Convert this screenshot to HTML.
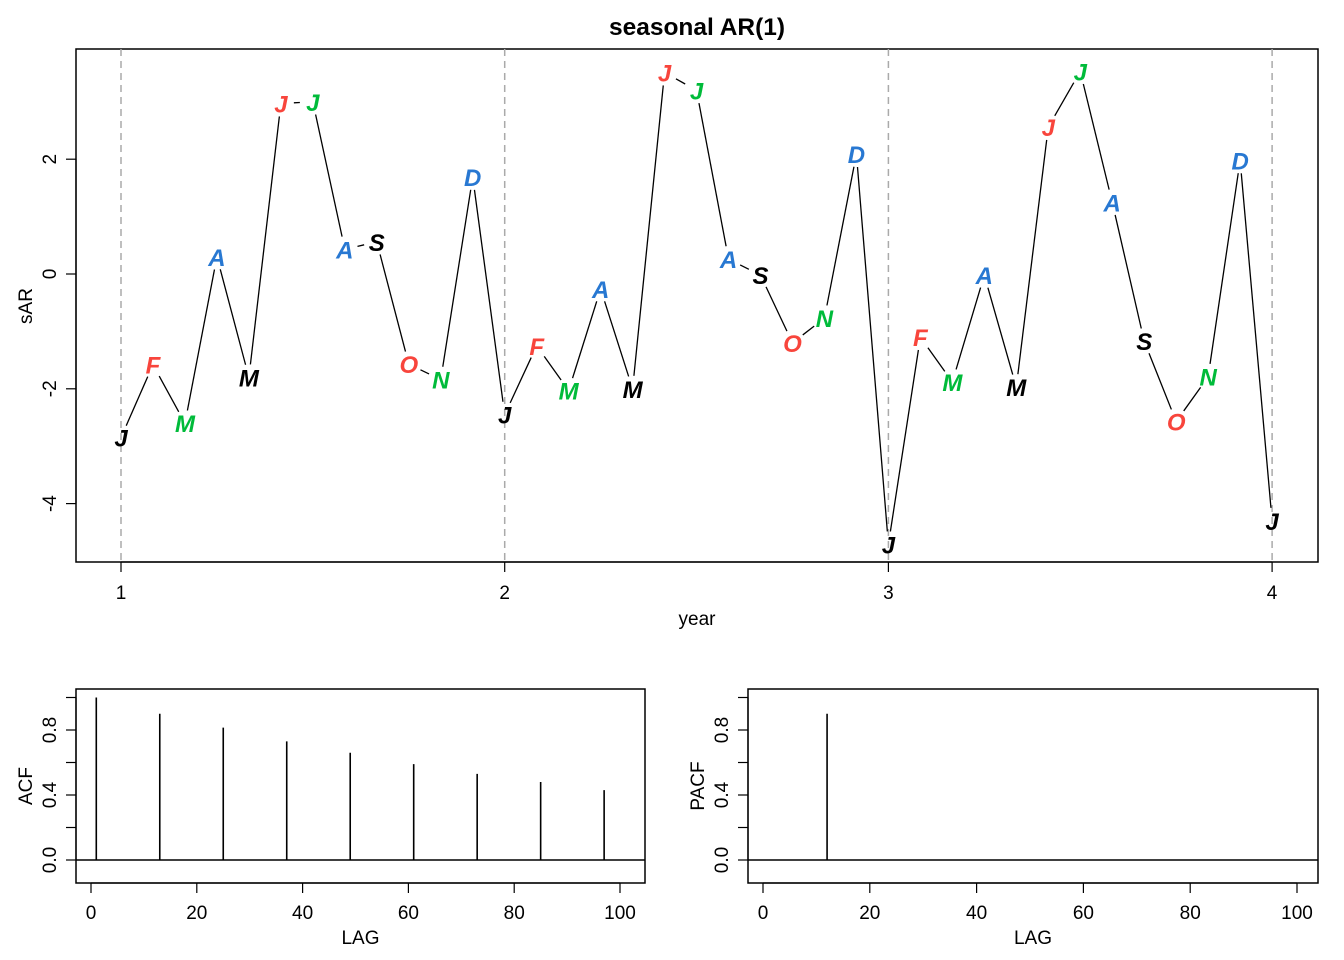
<!DOCTYPE html>
<html><head><meta charset="utf-8"><style>
html,body{margin:0;padding:0;background:#fff;}
svg{display:block;font-family:"Liberation Sans",Arial,sans-serif;}
</style></head><body>
<svg id="chart" width="1344" height="960" xmlns="http://www.w3.org/2000/svg"></svg>
<script>
const sarValues=[-2.85,-1.58,-2.6,0.3,-1.8,2.97,3.0,0.43,0.56,-1.57,-1.84,1.69,
 -2.45,-1.25,-2.03,-0.26,-2.0,3.51,3.2,0.26,-0.02,-1.2,-0.77,2.09,
 -4.71,-1.1,-1.88,-0.02,-1.97,2.56,3.53,1.25,-1.17,-2.57,-1.79,1.98,-4.3];
const monthLabels=["J","F","M","A","M","J","J","A","S","O","N","D"];
const yearTicks=[1,2,3,4];
const sarTicks=[-4,-2,0,2];
const acfLags=[1,13,25,37,49,61,73,85,97];
const acfValues=[1.0,0.9,0.815,0.73,0.66,0.59,0.53,0.48,0.43];
const pacfLags=[12];
const pacfValues=[0.9];
const lagTicks=[0,20,40,60,80,100];
const corrTicks=[0.0,0.4,0.8];
const corrMinorTicks=[0.0,0.2,0.4,0.6,0.8,1.0];
const colors=["#000000","#F8453C","#00BB3A","#2878D2"];

const svg=document.getElementById('chart');
const NS="http://www.w3.org/2000/svg";
function el(tag,attrs,parent){const e=document.createElementNS(NS,tag);for(const k in attrs)e.setAttribute(k,attrs[k]);(parent||svg).appendChild(e);return e;}
function txt(s,attrs,parent){const e=el('text',attrs,parent);e.textContent=s;return e;}

const topG=el('g',{});


const xY=t=>121+(t-1)*383.7;
const yY=v=>274-v*57.4;
let e=el('rect',{x:76,y:49,width:1242,height:513,fill:'none',stroke:'#000','stroke-width':1.5},topG);


e=txt('seasonal AR(1)',{x:697,y:35,'text-anchor':'middle','font-size':24.5,'font-weight':'bold'},topG);


yearTicks.forEach(t=>{
  let l=el('line',{x1:xY(t),x2:xY(t),y1:49,y2:562,stroke:'#aaa','stroke-width':1.5,'stroke-dasharray':'7,5'},topG);
  
  
  el('line',{x1:xY(t),x2:xY(t),y1:562,y2:572,stroke:'#000','stroke-width':1.2},topG);
  let tx=txt(String(t),{x:xY(t),y:599,'text-anchor':'middle','font-size':19},topG);
  
  
});
el('line',{x1:xY(1),x2:xY(4),y1:562,y2:562,stroke:'#000','stroke-width':1.2},topG);
sarTicks.forEach(v=>{
  el('line',{x1:66,x2:76,y1:yY(v),y2:yY(v),stroke:'#000','stroke-width':1.2},topG);
  let tx=txt(String(v),{x:0,y:0,'text-anchor':'middle','font-size':19,transform:`translate(56,${yY(v)}) rotate(-90)`},topG);
  
  
});
el('line',{x1:76,x2:76,y1:yY(-4),y2:yY(2),stroke:'#000','stroke-width':1.2},topG);
e=txt('year',{x:697,y:625,'text-anchor':'middle','font-size':19},topG);


e=txt('sAR',{x:0,y:0,'text-anchor':'middle','font-size':19,transform:'translate(32,306) rotate(-90)'},topG);


const pts=sarValues.map((v,i)=>[xY(1+i/12),yY(v)]);
for(let i=0;i<pts.length-1;i++){
  const [x1,y1]=pts[i],[x2,y2]=pts[i+1];
  const dx=x2-x1,dy=y2-y1,d=Math.hypot(dx,dy),r=13;
  if(d<=2*r)continue;
  let l=el('line',{x1:x1+dx*r/d,y1:y1+dy*r/d,x2:x2-dx*r/d,y2:y2-dy*r/d,stroke:'#000','stroke-width':1.3},topG);
  
  
}
pts.forEach((p,i)=>{
  let t=txt(monthLabels[i%12],{x:p[0],y:p[1]+9,'text-anchor':'middle','font-size':24,'font-weight':'bold','font-style':'italic',fill:colors[i%4]},topG);
  
  
});

function corrPanel(name,ylabel,x0,x1,zx,hx,lags,vals){
  const g=el('g',{});
  
  
  const X=l=>zx+l*(hx-zx)/100;
  const Y=v=>860-v*162.5;
  let r=el('rect',{x:x0,y:689,width:x1-x0,height:194,fill:'none',stroke:'#000','stroke-width':1.5},g);
  
  
  el('line',{x1:x0,x2:x1,y1:Y(0),y2:Y(0),stroke:'#000','stroke-width':1.5},g);
  lags.forEach((l,i)=>{
    let b=el('line',{x1:X(l),x2:X(l),y1:Y(0),y2:Y(vals[i]),stroke:'#000','stroke-width':1.6},g);
    
    
  });
  lagTicks.forEach(t=>{
    el('line',{x1:X(t),x2:X(t),y1:883,y2:893,stroke:'#000','stroke-width':1.2},g);
    let tx=txt(String(t),{x:X(t),y:919,'text-anchor':'middle','font-size':19},g);
    
    
  });
  el('line',{x1:X(0),x2:X(100),y1:883,y2:883,stroke:'#000','stroke-width':1.2},g);
  corrMinorTicks.forEach(v=>{el('line',{x1:x0-10,x2:x0,y1:Y(v),y2:Y(v),stroke:'#000','stroke-width':1.2},g);});
  el('line',{x1:x0,x2:x0,y1:Y(0),y2:Y(1.0),stroke:'#000','stroke-width':1.2},g);
  corrTicks.forEach(v=>{
    let tx=txt(v.toFixed(1),{x:0,y:0,'text-anchor':'middle','font-size':19,transform:`translate(${x0-20},${Y(v)}) rotate(-90)`},g);
    
    
  });
  let xt=txt('LAG',{x:(x0+x1)/2,y:944,'text-anchor':'middle','font-size':19},g);
  
  
  let yt=txt(ylabel,{x:0,y:0,'text-anchor':'middle','font-size':19,transform:`translate(${x0-44},786) rotate(-90)`},g);
  
  
}
corrPanel('acf-panel','ACF',76,645,91,620,acfLags,acfValues);
corrPanel('pacf-panel','PACF',748,1318,763,1297,pacfLags,pacfValues);
</script>
</body></html>
